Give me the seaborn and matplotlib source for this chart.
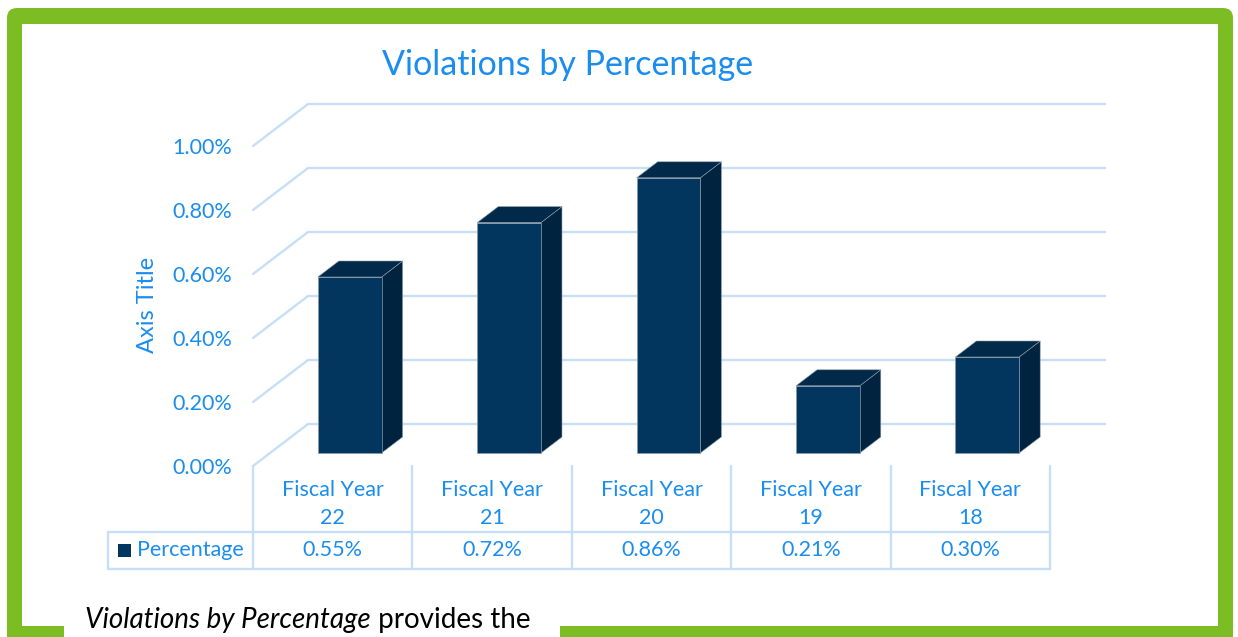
import matplotlib
matplotlib.use("Agg")
import matplotlib.pyplot as plt
import seaborn as sns
from matplotlib.patches import Polygon, Rectangle, FancyBboxPatch
from matplotlib.transforms import ScaledTranslation

# data
categories = ["Fiscal Year\n22", "Fiscal Year\n21", "Fiscal Year\n20", "Fiscal Year\n19", "Fiscal Year\n18"]
values = [0.55, 0.72, 0.86, 0.21, 0.30]
value_labels = ["0.55%", "0.72%", "0.86%", "0.21%", "0.30%"]
yticks = [0.0, 0.2, 0.4, 0.6, 0.8, 1.0]
ytick_labels = ["0.00%", "0.20%", "0.40%", "0.60%", "0.80%", "1.00%"]
series_name = "Percentage"

sns.set_style("white")
plt.rcParams["font.family"] = ["Lato", "DejaVu Sans"]

BLUE = "#1A8DEE"
GRID = "#C6DFF6"
FRONT = "#03365F"
SIDE = "#00233F"
TOP = "#00294A"
GREEN = "#7BBD22"
FS = 15.5

W, H = 1238, 637
fig = plt.figure(figsize=(W / 100, H / 100), dpi=100, facecolor="white")

# green frame
inch = fig.dpi_scale_trans
fig.patches.append(FancyBboxPatch((0.07, -0.3), 12.26, 6.59, boxstyle="round,pad=0,rounding_size=0.1",
                                  transform=inch, facecolor=GREEN, edgecolor="none", zorder=-10))
fig.patches.append(Rectangle((0.22, 0.11), 11.96, 6.02, transform=inch,
                             facecolor="white", edgecolor="none", zorder=-9))
fig.patches.append(Rectangle((0.64, -0.05), 4.96, 0.17, transform=inch,
                             facecolor="white", edgecolor="none", zorder=-8))

# front plane of the chart: x 253..1050 px, 0% at y=466, 1% at y=146
ax_left, ax_right, ax_zero, ax_top = 253, 1050, 466, 146
ax = fig.add_axes([ax_left / W, (H - ax_zero) / H, (ax_right - ax_left) / W, (ax_zero - ax_top) / H])
ax.patch.set_visible(False)

sns.barplot(x=categories, y=values, color=FRONT, saturation=1, width=0.4,
            edgecolor="#8c9bab", linewidth=0.5, ax=ax, zorder=3)
ax.set_xlim(-0.5, 4.5)
ax.set_ylim(0, 1.0)

xpx = (ax_right - ax_left) / 5.0   # pixels per category
ypx = (ax_zero - ax_top) / 1.0     # pixels per 1 %

# back wall (floor depth 55 x 42 px)
bdx, bdy = 55 / xpx, 42 / ypx
for t in yticks:
    ax.plot([-0.5 + bdx, 4.5 + bdx], [t + bdy, t + bdy], color=GRID, lw=1.7, clip_on=False, zorder=1)
    ax.plot([-0.5, -0.5 + bdx], [t, t + bdy], color=GRID, lw=1.7, clip_on=False, zorder=1)

# 3D bars: shift front faces into the floor and add side / top faces
shift = ax.transData + ScaledTranslation(17 / 100, 13 / 100, fig.dpi_scale_trans)
ddx, ddy = 21 / xpx, 16 / ypx
for p in list(ax.patches):
    p.set_transform(shift)
    p.set_clip_on(False)
    x0, y0 = p.get_x(), p.get_y()
    x1, y1 = x0 + p.get_width(), y0 + p.get_height()
    side = Polygon([(x1, y0), (x1, y1), (x1 + ddx, y1 + ddy), (x1 + ddx, y0 + ddy)],
                   closed=True, facecolor=SIDE, edgecolor="#8c9bab", lw=0.4, transform=shift, zorder=2.9, clip_on=False)
    top = Polygon([(x0, y1), (x1, y1), (x1 + ddx, y1 + ddy), (x0 + ddx, y1 + ddy)],
                  closed=True, facecolor=TOP, edgecolor="#8c9bab", lw=0.4, transform=shift, zorder=2.9, clip_on=False)
    ax.add_patch(side)
    ax.add_patch(top)

ax.set_yticks(yticks)
ax.set_yticklabels(ytick_labels, color=BLUE, fontsize=FS)
ax.tick_params(axis="y", length=0, pad=15)
ax.set_xticks([])
ax.set_xlabel("")
ax.set_ylabel("")
for s in ax.spines.values():
    s.set_visible(False)

# data table below the plot
xt = ax.get_xaxis_transform()
def ay(pix):
    return -(pix - ax_zero) / ypx

leg_left = -0.5 - (ax_left - 108) / xpx
for i in range(6):
    ax.plot([i - 0.5, i - 0.5], [ay(466), ay(569)], transform=xt, color=GRID, lw=1.7, clip_on=False)
ax.plot([leg_left, leg_left], [ay(532), ay(569)], transform=xt, color=GRID, lw=1.7, clip_on=False)
for yy in (532, 569):
    ax.plot([leg_left, 4.5], [ay(yy), ay(yy)], transform=xt, color=GRID, lw=1.7, clip_on=False)

for i, (c, v) in enumerate(zip(categories, value_labels)):
    ax.text(i, ay(504), c, transform=xt, ha="center", va="center", color=BLUE, fontsize=FS,
            linespacing=1.45)
    ax.text(i, ay(550), v, transform=xt, ha="center", va="center", color=BLUE, fontsize=FS)

ax.add_patch(Rectangle((-0.5 - (ax_left - 118) / xpx, ay(557)), 13 / xpx, 13 / ypx,
                       transform=xt, facecolor=FRONT, edgecolor="none", clip_on=False))
ax.text(-0.5 - (ax_left - 137) / xpx, ay(550), series_name, transform=xt, ha="left", va="center",
        color=BLUE, fontsize=FS)

# titles
fig.text(568 / W, 1 - 65 / H, "Violations by Percentage", ha="center", va="center", color=BLUE, fontsize=24.5)
fig.text(148 / W, 1 - 305 / H, "Axis Title", ha="center", va="center", rotation=90, color=BLUE, fontsize=17)

# caption cut by the frame
cap = fig.text(85 / W, 1 - 628 / H, "Violations by Percentage", ha="left", va="baseline",
               color="black", fontsize=20, style="italic")
r = fig.canvas.get_renderer()
bb = cap.get_window_extent(r)
fig.text(bb.x1 / W, 1 - 628 / H, " provides the", ha="left", va="baseline", color="black", fontsize=20)

fig.savefig("out.png", dpi=100, facecolor="white")
